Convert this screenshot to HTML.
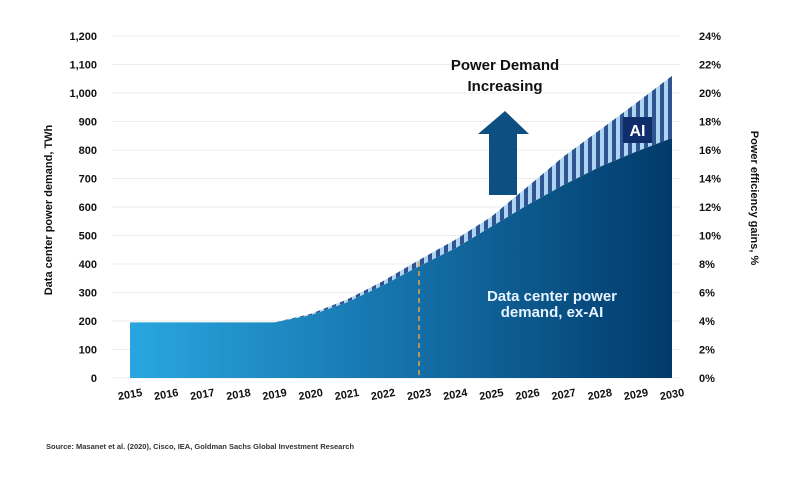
<!DOCTYPE html>
<html><head><meta charset="utf-8">
<style>
body{margin:0;background:#fff;}
svg text{font-family:"Liberation Sans",sans-serif;}
</style></head>
<body>
<svg id="chart" width="804" height="482" viewBox="0 0 804 482" xmlns="http://www.w3.org/2000/svg">
<defs>
<linearGradient id="grad" x1="130" y1="0" x2="672" y2="0" gradientUnits="userSpaceOnUse">
<stop offset="0" stop-color="#29a6df"/>
<stop offset="0.5" stop-color="#1572aa"/>
<stop offset="1" stop-color="#013a6a"/>
</linearGradient>
<pattern id="stripes" x="0" y="0" width="8" height="10" patternUnits="userSpaceOnUse">
<rect x="0" y="0" width="4" height="10" fill="#aed3f3"/>
<rect x="4" y="0" width="4" height="10" fill="#2e5590"/>
</pattern>
</defs>
<g id="grid"></g>
<g id="areas"></g>
<g id="labels"></g>
<line x1="419" y1="262" x2="419" y2="378" stroke="#e8a040" stroke-width="1.5" stroke-dasharray="5,4"/>
<g>
<polygon points="505,111 529,134 517,134 517,195 489,195 489,134 478,134" fill="#0d4f80"/>
</g>
<text x="505" y="70" text-anchor="middle" font-size="15" font-weight="bold" fill="#111">Power Demand</text>
<text x="505" y="91" text-anchor="middle" font-size="15" font-weight="bold" fill="#111">Increasing</text>
<rect x="623" y="117" width="29" height="26" fill="#0f2d6b"/>
<text x="637.5" y="136" text-anchor="middle" font-size="16" font-weight="bold" fill="#fff">AI</text>
<text x="552" y="301" text-anchor="middle" font-size="15" font-weight="bold" fill="#e8f3ff">Data center power</text>
<text x="552" y="317" text-anchor="middle" font-size="15" font-weight="bold" fill="#e8f3ff">demand, ex-AI</text>
<text transform="translate(52,210) rotate(-90)" text-anchor="middle" font-size="11" font-weight="bold" fill="#111">Data center power demand, TWh</text>
<text transform="translate(751,198) rotate(90)" text-anchor="middle" font-size="11" font-weight="bold" fill="#111">Power efficiency gains, %</text>
<text x="46" y="449" font-size="7.5" font-weight="bold" fill="#333">Source: Masanet et al. (2020), Cisco, IEA, Goldman Sachs Global Investment Research</text>
</svg>
<script>
const years = [2015,2016,2017,2018,2019,2020,2021,2022,2023,2024,2025,2026,2027,2028,2029,2030];
const exAI = [195,195,195,195,195,220,265,325,392,455,531,607,677,741,794,842];
const total = [195,195,195,195,195,225,275,340,414,485,566,671,777,870,964,1060];
const leftTicks = [0,100,200,300,400,500,600,700,800,900,1000,1100,1200];
const rightTicks = ["0%","2%","4%","6%","8%","10%","12%","14%","16%","18%","20%","22%","24%"];
const NS="http://www.w3.org/2000/svg";
const x0=130,x1=672,y0=378,yTop=36;
const xs=i=>x0+(x1-x0)*i/(years.length-1);
const ys=v=>y0-(y0-yTop)*v/1200;
function mk(tag,attrs,parent){const e=document.createElementNS(NS,tag);for(const k in attrs)e.setAttribute(k,attrs[k]);parent.appendChild(e);return e;}
const grid=document.getElementById('grid'),areas=document.getElementById('areas'),labels=document.getElementById('labels');
leftTicks.forEach((t,i)=>{
  const y=ys(t);
  const l=mk('line',{x1:112,x2:680,y1:y,y2:y,stroke:'#ececec','stroke-width':1},grid);
  
  
  const tx=mk('text',{x:97,y:y+4,'text-anchor':'end','font-size':11,'font-weight':'bold',fill:'#111'},labels);
  tx.textContent=t.toLocaleString('en-US');
  
  
  const rx=mk('text',{x:699,y:y+4,'font-size':11,'font-weight':'bold',fill:'#111'},labels);
  rx.textContent=rightTicks[i];
  
  
});
function areaPath(top,bottom){
  let d='M'+xs(0)+','+ys(top[0]);
  for(let i=1;i<top.length;i++)d+=' L'+xs(i)+','+ys(top[i]);
  for(let i=bottom.length-1;i>=0;i--)d+=' L'+xs(i)+','+(bottom===null?y0:ys(bottom[i]));
  return d+' Z';
}
const zero=years.map(()=>0);
const ai=mk('path',{d:areaPath(total,exAI),fill:'url(#stripes)'},areas);


const ex=mk('path',{d:areaPath(exAI,zero),fill:'url(#grad)'},areas);


years.forEach((yr,i)=>{
  const x=xs(i);
  const t=mk('text',{x:x,y:398,'text-anchor':'middle','font-size':11,'font-weight':'bold',fill:'#111',transform:'rotate(-10 '+x+' 394)'},labels);
  t.textContent=yr;
  
  
});
</script>
</body></html>
